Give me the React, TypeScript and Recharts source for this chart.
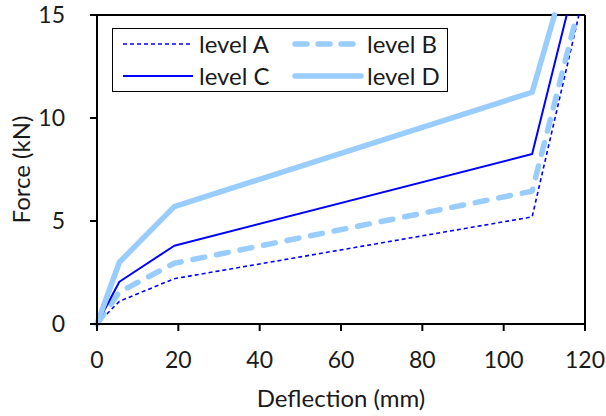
import {
  LineChart,
  Line,
  XAxis,
  YAxis,
  Legend,
  ReferenceLine,
} from "recharts";

const deflectionA = [0, 5.5, 19, 107, 118.5];
const forceA = [0, 1.1, 2.2, 5.2, 15];
const deflectionB = [0, 5.5, 19, 107, 118];
const forceB = [0, 1.55, 2.95, 6.45, 15];
const deflectionC = [0, 5.5, 19, 107, 115.5];
const forceC = [0, 2.05, 3.8, 8.25, 15];
const deflectionD = [0, 5.5, 19, 107, 112.5];
const forceD = [0, 3.0, 5.7, 11.25, 15];

const xTicks = [0, 20, 40, 60, 80, 100, 120];
const yTicks = [0, 5, 10, 15];

const toPoints = (xs: number[], ys: number[]) =>
  xs.map((x, i) => ({ x, y: ys[i] }));

const dark = "#0000FF";
const light = "#99CCFF";
const font = "Lato, 'Open Sans', sans-serif";
const textColor = "#1a1a1a";

const series = [
  { name: "level A", data: toPoints(deflectionA, forceA), stroke: dark, width: 1.6, dash: "4 3", cap: "butt" },
  { name: "level B", data: toPoints(deflectionB, forceB), stroke: light, width: 5.5, dash: "12 12", cap: "round" },
  { name: "level C", data: toPoints(deflectionC, forceC), stroke: dark, width: 2, dash: undefined, cap: "butt" },
  { name: "level D", data: toPoints(deflectionD, forceD), stroke: light, width: 5.5, dash: undefined, cap: "round" },
];

const LegendBox = () => {
  const cols = [
    { line: 10, len: 70, text: 88 },
    { line: 179, len: 72, text: 256 },
  ];
  const rows = [16, 48];
  return (
    <div
      style={{
        position: "relative",
        width: 336,
        height: 64,
        boxSizing: "border-box",
        border: "1.5px solid #000",
        background: "#fff",
        fontFamily: font,
        fontSize: 24,
        color: textColor,
      }}
    >
      {series.map((s, i) => {
        const c = cols[i % 2];
        const r = rows[Math.floor(i / 2)];
        return (
          <div key={s.name}>
            <svg
              width={c.len + 8}
              height={12}
              style={{ position: "absolute", left: c.line - 4, top: r - 7 }}
            >
              <line
                x1={4 + (s.cap === "round" ? 3 : 0)}
                x2={c.len + 4 - (s.cap === "round" ? 3 : 0)}
                y1={6}
                y2={6}
                stroke={s.stroke}
                strokeWidth={s.width}
                strokeDasharray={s.dash === "12 12" ? "12 11" : s.dash}
                strokeLinecap={s.cap as any}
              />
            </svg>
            <span
              style={{
                position: "absolute",
                left: c.text - 2,
                top: r - 16,
                lineHeight: "30px",
                whiteSpace: "nowrap",
              }}
            >
              {s.name}
            </span>
          </div>
        );
      })}
    </div>
  );
};

const YTitle = (props: any) => {
  const vb = props.viewBox || {};
  const cx = 20;
  const cy = vb.y + vb.height / 2;
  return (
    <text
      x={cx}
      y={cy}
      transform={`rotate(-90 ${cx} ${cy})`}
      textAnchor="middle"
      dominantBaseline="central"
      fontFamily={font}
      fontSize={24}
      fill={textColor}
    >
      Force (kN)
    </text>
  );
};

const XTitle = (props: any) => {
  const vb = props.viewBox || {};
  return (
    <text
      x={vb.x + vb.width / 2}
      y={407}
      textAnchor="middle"
      fontFamily={font}
      fontSize={24}
      fill={textColor}
    >
      Deflection (mm)
    </text>
  );
};

const tickStyle = { fill: textColor, fontSize: 23, fontFamily: font };

export default function App() {
  return (
    <div style={{ position: "absolute", left: 0, top: 0, width: 606, height: 416, background: "#fff" }}>
      <LineChart width={606} height={416} margin={{ top: 15, right: 21, left: 0, bottom: 0 }}>
        <XAxis
          type="number"
          dataKey="x"
          domain={[0, 120]}
          ticks={xTicks}
          interval={0}
          allowDuplicatedCategory={false}
          height={92}
          tick={tickStyle}
          tickSize={7}
          tickMargin={21}
          axisLine={{ stroke: "#000", strokeWidth: 2 }}
          tickLine={{ stroke: "#000", strokeWidth: 2 }}
          label={<XTitle />}
        />
        <YAxis
          type="number"
          dataKey="y"
          domain={[0, 15]}
          ticks={yTicks}
          interval={0}
          width={97}
          tick={tickStyle}
          tickSize={7}
          tickMargin={25}
          axisLine={{ stroke: "#000", strokeWidth: 2 }}
          tickLine={{ stroke: "#000", strokeWidth: 2 }}
          label={<YTitle />}
        />
        <ReferenceLine y={15} stroke="#000" strokeWidth={2} />
        <ReferenceLine x={120} stroke="#000" strokeWidth={2} />
        {series.map((s) => (
          <Line
            key={s.name}
            data={s.data}
            dataKey="y"
            name={s.name}
            type="linear"
            stroke={s.stroke}
            strokeWidth={s.width}
            strokeDasharray={s.dash}
            strokeLinecap={s.cap as any}
            strokeLinejoin="round"
            dot={false}
            activeDot={false}
            isAnimationActive={false}
          />
        ))}
        <Legend
          layout="vertical"
          align="center"
          verticalAlign="middle"
          wrapperStyle={{ left: 112, top: 28, width: 336, height: 64 }}
          content={() => <LegendBox />}
        />
      </LineChart>
    </div>
  );
}
